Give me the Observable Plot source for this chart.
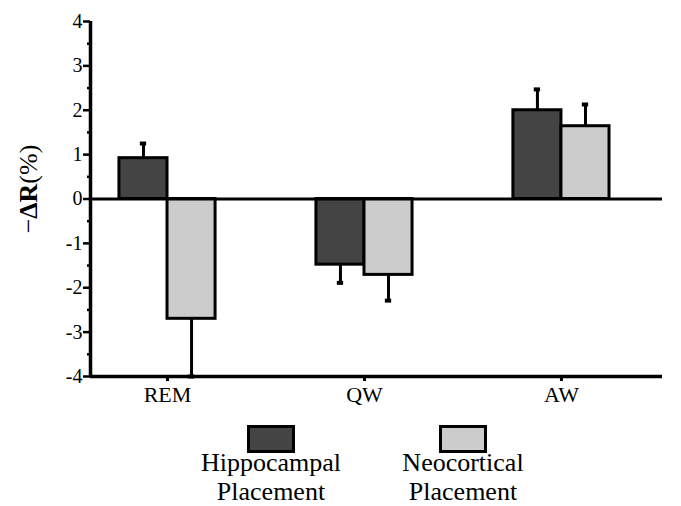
<!DOCTYPE html>
<html>
<head>
<meta charset="utf-8">
<script src="https://cdn.jsdelivr.net/npm/d3@7"></script>
<script src="https://cdn.jsdelivr.net/npm/@observablehq/plot@0.6"></script>
<style>
  body { margin: 0; background: #fff; font-family: 'Liberation Serif', serif; }
  #wrap { position: relative; width: 681px; height: 506px; overflow: hidden; }
  .legend { position: absolute; top: 425px; width: 220px; text-align: center; font-size: 26px; line-height: 29px; color: #000; font-family: 'Liberation Serif', serif; }
  .sw { width: 42px; height: 22px; margin: 0 auto -5px auto; border: 3px solid #000; }
</style>
</head>
<body>
<div id="wrap">
  <div id="chart"></div>
</div>
<script>
// ---- data ----
const categories = ["REM", "QW", "AW"];
const groups = ["Hippocampal Placement", "Neocortical Placement"];
const hippoValues = [0.92, -1.48, 2.0];
const hippoErrors = [0.33, 0.41, 0.47];
const neoValues = [-2.7, -1.71, 1.64];
const neoErrors = [1.3, 0.58, 0.49];
const yTicks = [-4, -3, -2, -1, 0, 1, 2, 3, 4];
const yMinorTicks = [-3.5, -2.5, -1.5, -0.5, 0.5, 1.5, 2.5, 3.5];
const yLabel = "−ΔR(%)";
const colors = ["#444444", "#cccccc"];

// ---- layout constants ----
const serif = "'Liberation Serif', serif";
const xDomain = [-0.391, 2.513];
const barW = 0.244;
const capW = 0.016;

const rows = [];
categories.forEach((c, i) => {
  [[hippoValues, hippoErrors], [neoValues, neoErrors]].forEach(([vals, errs], g) => {
    const v = vals[i], e = errs[i];
    const x1 = g === 0 ? i - barW : i;
    const x2 = g === 0 ? i : i + barW;
    rows.push({cat: c, group: groups[g], g, x1, x2, xm: (x1 + x2) / 2, value: v, end: v + Math.sign(v) * e});
  });
});

const chart = Plot.plot({
  width: 681,
  height: 410,
  marginLeft: 90,
  marginRight: 19,
  marginTop: 21,
  marginBottom: 34,
  style: {fontFamily: serif, background: "#fff", color: "#000", overflow: "visible"},
  x: {domain: xDomain},
  y: {domain: [-4, 4]},
  color: {domain: groups, range: colors},
  marks: [
    Plot.rectY(rows, {x1: "x1", x2: "x2", y1: 0, y2: "value", fill: "group", stroke: "#000", strokeWidth: 3}),
    Plot.ruleX(rows, {x: "xm", y1: "value", y2: "end", stroke: "#000", strokeWidth: 3}),
    Plot.ruleY(rows, {x1: d => d.xm - capW, x2: d => d.xm + capW, y: "end", stroke: "#000", strokeWidth: 4}),
    Plot.ruleY([0], {stroke: "#000", strokeWidth: 3}),
    Plot.ruleY([-4], {stroke: "#000", strokeWidth: 3.5}),
    Plot.ruleX([xDomain[0]], {y1: -4, y2: 4, stroke: "#000", strokeWidth: 3.5}),
    Plot.axisY(yMinorTicks, {tickSize: 3, tickFormat: () => "", label: null, strokeWidth: 2.5}),
    Plot.axisY(yTicks, {tickSize: 7, tickPadding: 1, fontSize: 20, fill: "#000", tickFormat: d => String(d), label: null, strokeWidth: 2.5}),
    Plot.axisX([0, 1, 2], {tickSize: 5, tickPadding: 5, fontSize: 22, fill: "#000", tickFormat: i => categories[i], label: null, strokeWidth: 3}),
    Plot.text([yLabel], {text: d => d, frameAnchor: "left", textAnchor: "middle", lineAnchor: "middle", rotate: -90, dx: -62, dy: -10, fontSize: 26, fill: "#000"})
  ]
});
document.getElementById("chart").appendChild(chart);

// force the serif face on every text of the chart
d3.select(chart).selectAll("g, text").attr("font-family", "Liberation Serif").style("font-family", serif);

// make "ΔR" bold in the y label
d3.select(chart).selectAll("text").filter(function() { return this.textContent === yLabel; }).each(function() {
  const t = d3.select(this);
  t.text(null);
  t.append("tspan").text("−");
  t.append("tspan").attr("font-weight", "bold").text("ΔR");
  t.append("tspan").text("(%)");
});

// legend (HTML, below the SVG)
const wrap = document.getElementById("wrap");
const legendCenters = [271, 463];
groups.forEach((g, k) => {
  const div = document.createElement("div");
  div.className = "legend";
  div.style.left = (legendCenters[k] - 110) + "px";
  div.style.fontFamily = serif;
  const sw = document.createElement("div");
  sw.className = "sw";
  sw.style.background = colors[k];
  div.appendChild(sw);
  const words = g.split(" ");
  div.appendChild(document.createTextNode(words[0]));
  div.appendChild(document.createElement("br"));
  div.appendChild(document.createTextNode(words[1]));
  wrap.appendChild(div);
});
</script>
</body>
</html>
